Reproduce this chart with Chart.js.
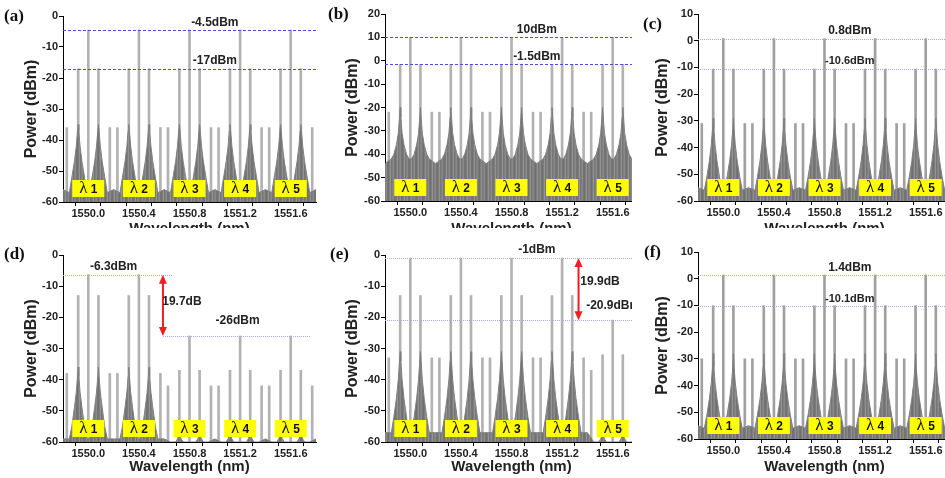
<!DOCTYPE html>
<html>
<head>
<meta charset="utf-8">
<script src="https://cdn.jsdelivr.net/npm/chart.js@4.4.1/dist/chart.umd.min.js"></script>
<style>
  body { margin: 0; background: #fff; width: 945px; height: 478px; position: relative; overflow: hidden; }
  .panel { position: absolute; overflow: hidden; }
  .panel canvas { position: absolute; left: 0; top: 0; }
  .tag { position: absolute; font: bold 17px "Liberation Serif", "Times New Roman", serif; color: #111; }
</style>
</head>
<body>
<div class="panel" style="left:0;top:0;width:318px;height:228px"><canvas id="ca" width="318" height="245"></canvas></div>
<div class="panel" style="left:318px;top:0;width:314px;height:228px"><canvas id="cb" width="322" height="245"></canvas></div>
<div class="panel" style="left:632px;top:0;width:313px;height:228px"><canvas id="cc" width="321" height="245"></canvas></div>
<div class="panel" style="left:0;top:240px;width:318px;height:238px"><canvas id="cd" width="318" height="238"></canvas></div>
<div class="panel" style="left:318px;top:240px;width:314px;height:238px"><canvas id="ce" width="322" height="238"></canvas></div>
<div class="panel" style="left:632px;top:240px;width:313px;height:238px"><canvas id="cf" width="321" height="238"></canvas></div>
<div class="tag" style="left:4px;top:6px">(a)</div>
<div class="tag" style="left:328px;top:4px">(b)</div>
<div class="tag" style="left:643px;top:14px">(c)</div>
<div class="tag" style="left:4px;top:244px">(d)</div>
<div class="tag" style="left:330px;top:244px">(e)</div>
<div class="tag" style="left:644px;top:242px">(f)</div>
<script>
// channel centres and the tone positions around each one (nm)
const centers = [1550.0, 1550.4, 1550.8, 1551.2, 1551.6];
const toneOffsets = [-0.17, -0.08, 0, 0.08, 0.17];
const humpOffsets = [-0.07, -0.05, -0.03, -0.015, -0.005, 0, 0.005, 0.015, 0.03, 0.05, 0.07];
const channelNames = ["1", "2", "3", "4", "5"];

// (a)
const carrierA = [-4.5, -4.5, -4.5, -4.5, -4.5];
const sideA = [-17, -17, -17, -17, -17];
const outerA = [-36, -36, -36, -36, -36];
const humpA = [-57, -52, -47, -42, -37, -35, -37, -42, -47, -52, -57];
const humpOnA = [1, 1, 1, 1, 1];
// (b)
const carrierB = [10, 10, 10, 10, 10];
const sideB = [-1.5, -1.5, -1.5, -1.5, -1.5];
const outerB = [-22, -22, -22, -22, -22];
const humpB = [-42, -40, -36, -31, -24, -20, -24, -31, -36, -40, -42];
const humpOnB = [1, 1, 1, 1, 1];
// (c)
const carrierC = [0.8, 0.8, 0.8, 0.8, 0.8];
const sideC = [-10.6, -10.6, -10.6, -10.6, -10.6];
const outerC = [-31, -31, -31, -31, -31];
const humpC = [-56, -51, -45, -39, -33, -29, -33, -39, -45, -51, -56];
const humpOnC = [1, 1, 1, 1, 1];
// (d)
const carrierD = [-6.3, -6.3, -26, -26, -26];
const sideD = [-13, -13, -37, -37, -37];
const outerD = [-38, -38, -42, -42, -42];
const humpD = [-59, -55, -49, -44, -39, -36, -39, -44, -49, -55, -59];
const humpOnD = [1, 1, 0, 0, 0];
// (e)
const carrierE = [-1, -1, -1, -1, -20.9];
const sideE = [-13, -13, -13, -13, -32];
const outerE = [-33, -33, -33, -33, -37];
const humpE = [-57, -52, -46, -40, -34, -31, -34, -40, -46, -52, -57];
const humpOnE = [1, 1, 1, 1, 0];
// (f)
const carrierF = [1.4, 1.4, 1.4, 1.4, 1.4];
const sideF = [-10.1, -10.1, -10.1, -10.1, -10.1];
const outerF = [-30, -30, -30, -30, -30];
const humpF = [-56, -51, -45, -39, -33, -28, -33, -39, -45, -51, -56];
const humpOnF = [1, 1, 1, 1, 1];

const quietHump = [-60, -60, -60, -59, -58, -57, -58, -59, -60, -60, -60];
const floorLevel = { a: -56, b: -44, c: -55, d: -59, e: -57, f: -55 };

const sansFont = '"Liberation Sans", Arial, sans-serif';

// faint striped fill so the noise looks like a dense trace
const makeStripes = () => {
  let c = document.createElement("canvas");
  c.width = 7;
  c.height = 1;
  let g = c.getContext("2d");
  ["#727272", "#7c7c7c", "#939393", "#767676", "#808080", "#8a8a8a", "#747474"].forEach((col, i) => {
    g.fillStyle = col;
    g.fillRect(i, 0, 1, 1);
  });
  return g.createPattern(c, "repeat");
};
const noiseFill = makeStripes();

const spikeSeries = (carrier, side, outer) => {
  let pts = [];
  centers.forEach((c, g) => {
    let h = [outer[g], side[g], carrier[g], side[g], outer[g]];
    toneOffsets.forEach((o, i) => pts.push({ x: c + o, y: [-60, h[i]] }));
  });
  return pts;
};

const noiseSeries = (hump, humpOn, floor) => {
  let pts = [];
  centers.forEach((c, g) => {
    pts.push({ x: c - 0.2, y: floor });
    [-0.08, 0.08].forEach(s => {
      let prof = humpOn[g] ? hump : quietHump;
      humpOffsets.forEach((o, i) => pts.push({ x: c + s + o, y: prof[i] }));
    });
    pts.push({ x: c + 0.2, y: floor });
  });
  return pts;
};

const marksPlugin = {
  id: "marks",
  afterDatasetsDraw(chart, args, opts) {
    const { ctx, scales: { x, y }, chartArea } = chart;
    ctx.save();
    (opts.lines || []).forEach(l => {
      ctx.strokeStyle = l.color;
      ctx.lineWidth = 1;
      ctx.setLineDash(l.dash);
      ctx.beginPath();
      let py = Math.round(y.getPixelForValue(l.y)) + 0.5;
      ctx.moveTo(l.from != null ? x.getPixelForValue(l.from) : chartArea.left, py);
      ctx.lineTo(l.to != null ? x.getPixelForValue(l.to) : chartArea.right + 10, py);
      ctx.stroke();
    });
    ctx.setLineDash([]);
    (opts.arrows || []).forEach(a => {
      let px = x.getPixelForValue(a.x);
      let y1 = y.getPixelForValue(a.y1), y2 = y.getPixelForValue(a.y2);
      ctx.strokeStyle = "#f21c24";
      ctx.fillStyle = "#f21c24";
      ctx.lineWidth = 2;
      ctx.beginPath();
      ctx.moveTo(px, y1 + 6);
      ctx.lineTo(px, y2 - 6);
      ctx.stroke();
      ctx.beginPath();
      ctx.moveTo(px, y1); ctx.lineTo(px - 4, y1 + 9); ctx.lineTo(px + 4, y1 + 9); ctx.closePath(); ctx.fill();
      ctx.beginPath();
      ctx.moveTo(px, y2); ctx.lineTo(px - 4, y2 - 9); ctx.lineTo(px + 4, y2 - 9); ctx.closePath(); ctx.fill();
    });
    (opts.texts || []).forEach(t => {
      ctx.font = "bold " + t.size + "px " + sansFont;
      ctx.fillStyle = "#222";
      ctx.textAlign = t.align || "center";
      ctx.textBaseline = "middle";
      ctx.fillText(t.text, x.getPixelForValue(t.x), y.getPixelForValue(t.y));
    });
    // yellow channel tags
    centers.forEach((c, i) => {
      let cx = x.getPixelForValue(c);
      let by = chartArea.bottom - 5;
      ctx.fillStyle = "#ffff00";
      ctx.fillRect(cx - 16, by - 17, 32, 17);
      ctx.fillStyle = "#111";
      ctx.textBaseline = "alphabetic";
      ctx.textAlign = "left";
      ctx.font = '17px "Liberation Serif", serif';
      let lw = ctx.measureText("\u03bb").width;
      ctx.font = "bold 12px " + sansFont;
      let nw = ctx.measureText(" " + channelNames[i]).width;
      let sx = cx - (lw + nw) / 2;
      ctx.font = '17px "Liberation Serif", serif';
      ctx.fillText("\u03bb", sx, by - 4);
      ctx.font = "bold 12px " + sansFont;
      ctx.fillText(" " + channelNames[i], sx + lw, by - 4);
    });
    ctx.restore();
  },
};

const makeChart = (id, geo, yMax, spikes, noise, spikeColor, marks) => {
  let ctx = document.getElementById(id).getContext("2d");
  let canvasH = ctx.canvas.height;
  let padLeft = geo.titleX - 4 - 9.6;
  return new Chart(ctx, {
    type: "bar",
    data: {
      datasets: [
        {
          type: "line",
          data: noise,
          fill: "start",
          borderColor: "#808080",
          backgroundColor: noiseFill,
          borderWidth: 1,
          pointRadius: 0,
          tension: 0,
          order: 1,
        },
        {
          type: "bar",
          data: spikes,
          backgroundColor: spikeColor,
          barThickness: 2,
          order: 2,
        },
      ],
    },
    options: {
      responsive: false,
      animation: false,
      layout: { padding: { left: padLeft, top: geo.top, right: 2, bottom: 0 } },
      plugins: { legend: { display: false }, tooltip: { enabled: false }, marks: marks },
      scales: {
        x: {
          type: "linear",
          min: 1549.8,
          max: 1551.8,
          offset: false,
          grid: { drawOnChartArea: false, drawTicks: true, tickLength: 4, color: "#000" },
          border: { color: "#000", width: 1 },
          ticks: {
            stepSize: 0.2,
            autoSkip: false,
            maxRotation: 0,
            padding: 1,
            color: "#222",
            font: { family: sansFont, size: 11, weight: "bold" },
            callback: v => {
              let k = Math.round((v - 1550) / 0.2);
              return k >= 0 && k % 2 === 0 ? v.toFixed(1) : "";
            },
          },
          title: {
            display: true,
            text: "Wavelength (nm)",
            color: "#222",
            font: { family: sansFont, size: 15, weight: "bold" },
            padding: { top: 0, bottom: geo.titlePad },
          },
          afterFit: s => { s.height = canvasH - geo.bottom; },
        },
        y: {
          min: -60,
          max: yMax,
          grid: { drawOnChartArea: false, drawTicks: true, tickLength: 4, color: "#000" },
          border: { color: "#000", width: 1 },
          ticks: {
            stepSize: 5,
            padding: 1,
            color: "#222",
            font: { family: sansFont, size: 11, weight: "bold" },
            callback: v => (v % 10 === 0 ? v : ""),
          },
          title: {
            display: true,
            text: "Power (dBm)",
            color: "#222",
            font: { family: sansFont, size: 16, weight: "bold" },
          },
          afterFit: s => { s.width = geo.axisX - padLeft; },
        },
      },
    },
    plugins: [marksPlugin],
  });
};

const blueDash = { color: "#4b4bf0", dash: [3, 2] };
const paleDot = { color: "#a8a8e8", dash: [1, 1] };

makeChart("ca", { axisX: 63, top: 16, bottom: 202, titleX: 32, titlePad: 7 }, 0,
  spikeSeries(carrierA, sideA, outerA), noiseSeries(humpA, humpOnA, floorLevel.a), "#b2b2b2", {
    lines: [{ y: -4.5, ...blueDash }, { y: -17, ...blueDash }],
    texts: [{ text: "-4.5dBm", x: 1551.0, y: -2.2, size: 12 }, { text: "-17dBm", x: 1551.0, y: -14.3, size: 12 }],
  });

makeChart("cb", { axisX: 67, top: 14, bottom: 201, titleX: 35, titlePad: 7 }, 20,
  spikeSeries(carrierB, sideB, outerB), noiseSeries(humpB, humpOnB, floorLevel.b), "#b2b2b2", {
    lines: [{ y: 10, ...blueDash }, { y: -1.5, ...blueDash }],
    texts: [{ text: "10dBm", x: 1551.0, y: 13.2, size: 12 }, { text: "-1.5dBm", x: 1551.0, y: 1.6, size: 12 }],
  });

makeChart("cc", { axisX: 66, top: 14, bottom: 201, titleX: 31, titlePad: 7 }, 10,
  spikeSeries(carrierC, sideC, outerC), noiseSeries(humpC, humpOnC, floorLevel.c), "#a0a0a0", {
    lines: [{ y: 0.8, ...paleDot }, { y: -10.6, ...paleDot }],
    texts: [{ text: "0.8dBm", x: 1551.0, y: 3.7, size: 12 }, { text: "-10.6dBm", x: 1551.0, y: -7.6, size: 11 }],
  });

makeChart("cd", { axisX: 63, top: 15, bottom: 202, titleX: 32, titlePad: 2 }, 0,
  spikeSeries(carrierD, sideD, outerD), noiseSeries(humpD, humpOnD, floorLevel.d), "#b2b2b2", {
    lines: [{ y: -6.3, to: 1550.67, ...paleDot }, { y: -26, from: 1550.59, to: 1551.76, ...paleDot }],
    arrows: [{ x: 1550.59, y1: -6.3, y2: -26 }],
    texts: [
      { text: "-6.3dBm", x: 1550.2, y: -3.6, size: 12 },
      { text: "19.7dB", x: 1550.74, y: -15.1, size: 12 },
      { text: "-26dBm", x: 1551.18, y: -21, size: 12 },
    ],
  });

makeChart("ce", { axisX: 67, top: 15, bottom: 202, titleX: 35, titlePad: 2 }, 0,
  spikeSeries(carrierE, sideE, outerE), noiseSeries(humpE, humpOnE, floorLevel.e), "#b2b2b2", {
    lines: [{ y: -1, ...paleDot }, { y: -20.9, ...paleDot }],
    arrows: [{ x: 1551.33, y1: -1, y2: -20.9 }],
    texts: [
      { text: "-1dBm", x: 1551.0, y: 1.6, size: 12 },
      { text: "19.9dB", x: 1551.5, y: -8.7, size: 12 },
      { text: "-20.9dBm", x: 1551.39, y: -16.4, size: 12, align: "left" },
    ],
  });

makeChart("cf", { axisX: 66, top: 12, bottom: 199, titleX: 31, titlePad: 2 }, 10,
  spikeSeries(carrierF, sideF, outerF), noiseSeries(humpF, humpOnF, floorLevel.f), "#a0a0a0", {
    lines: [{ y: 1.4, ...paleDot }, { y: -10.1, ...paleDot }],
    texts: [{ text: "1.4dBm", x: 1551.0, y: 4.3, size: 12 }, { text: "-10.1dBm", x: 1551.0, y: -7.5, size: 11 }],
  });
</script>
</body>
</html>
